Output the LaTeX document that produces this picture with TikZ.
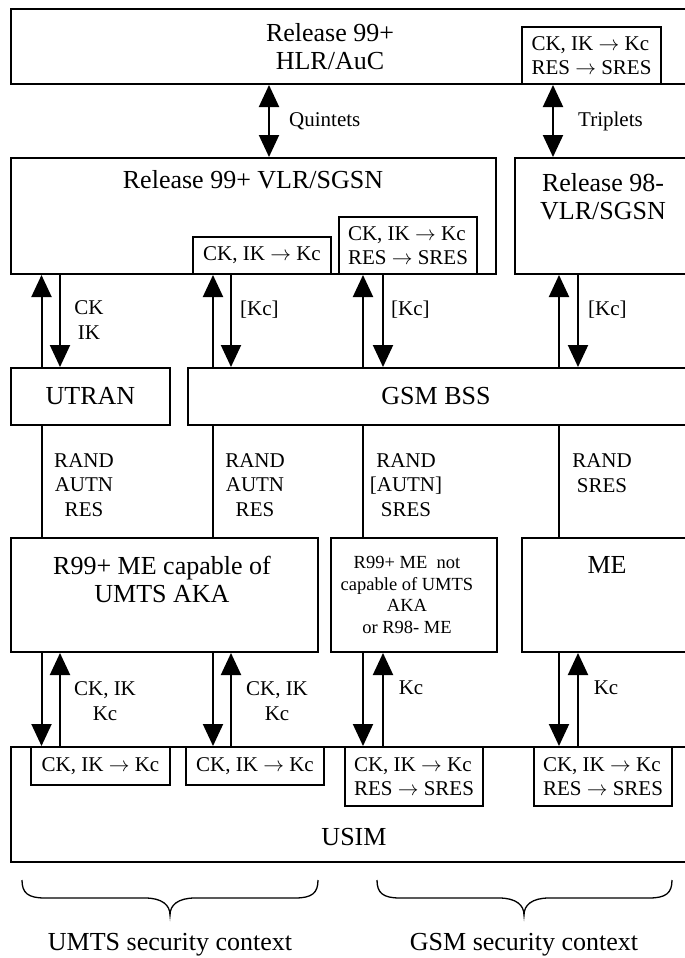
\documentclass[tikz,border=0pt]{standalone}
\usepackage{fontspec}
\setmainfont{Liberation Serif}
\usepackage{tikz}
\usetikzlibrary{arrows.meta,calc}
\newcommand\bigtxt{\fontsize{26}{28}\selectfont}
\newcommand\smalltxt{\fontsize{21}{24.5}\selectfont}
\newcommand\midtxt{\fontsize{18.5}{21.5}\selectfont}
\newcommand\ra{$\rightarrow$}

\begin{document}
\begin{tikzpicture}[x=1pt,y=-1pt,
    >={Triangle[width=20pt,length=22pt]},
    box/.style={draw,line width=2pt,inner sep=0pt},
    fnbox/.style={draw,line width=2pt,inner sep=2pt,align=left,font=\smalltxt},
    ar/.style={->,line width=2pt},
    ln/.style={line width=2pt},
    big/.style={font=\bigtxt,align=center,inner sep=0pt},
    lbl/.style={font=\smalltxt,align=center,inner sep=0pt},
    brace/.style={line width=1.3pt}]
  \useasboundingbox (0,0) rectangle (685,958);
  % network side
  \node[box,minimum width=689pt,minimum height=74.5pt] (hlr) at (355.5,46.75) {};
  \node[big] (hlrtxt) at (330,47) {Release 99+\\HLR/AuC};
  \node[fnbox,minimum width=139pt,minimum height=57pt] (hlrfn) at (591.5,55.5)
    {CK, IK \ra{} Kc\\RES \ra{} SRES};
  \node[box,minimum width=485pt,minimum height=116pt] (vlr) at (253.5,216) {};
  \node[big] (vlrtxt) at (253,180) {Release 99+ VLR/SGSN};
  \node[box,minimum width=185pt,minimum height=116pt] (vlro) at (607.5,216) {};
  \node[big] (vlrotxt) at (603,197) {Release 98-\\VLR/SGSN};
  \node[fnbox,minimum width=138pt,minimum height=37pt] (vlrfna) at (262,255.5)
    {CK, IK \ra{} Kc};
  \node[fnbox,minimum width=138pt,minimum height=57pt] (vlrfnb) at (408,245.5)
    {CK, IK \ra{} Kc\\RES \ra{} SRES};
  \node[box,minimum width=159pt,minimum height=57pt,font=\bigtxt] (utran) at (90.5,396.5) {UTRAN};
  \node[box,minimum width=512pt,minimum height=57pt,font=\bigtxt] (bss) at (444,396.5) {};
  \node[big] (bsstxt) at (436,396.5) {GSM BSS};
  % mobile side
  \node[box,minimum width=307pt,minimum height=114pt] (mea) at (164.5,595) {};
  \node[big] (meatxt) at (162,579) {R99+ ME capable of\\UMTS AKA};
  \node[box,minimum width=166pt,minimum height=114pt] (meb) at (414,595) {};
  \node[font=\midtxt,align=center,inner sep=0pt] (mebtxt) at (407,595)
    {R99+ ME~~not\\capable of UMTS\\AKA\\or R98- ME};
  \node[box,minimum width=178pt,minimum height=114pt] (mec) at (611,595) {};
  \node[big] (mectxt) at (607,565) {ME};
  \node[box,minimum width=689pt,minimum height=115pt] (usim) at (355.5,804.5) {};
  \node[big] (usimtxt) at (354,837) {USIM};
  \node[fnbox,minimum width=139pt,minimum height=38pt] (simfna) at (100.5,766) {CK, IK \ra{} Kc};
  \node[fnbox,minimum width=138pt,minimum height=38pt] (simfnb) at (255,766) {CK, IK \ra{} Kc};
  \node[fnbox,minimum width=138pt,minimum height=59pt] (simfnc) at (414,776.5)
    {CK, IK \ra{} Kc\\RES \ra{} SRES};
  \node[fnbox,minimum width=138pt,minimum height=59pt] (simfnd) at (603,776.5)
    {CK, IK \ra{} Kc\\RES \ra{} SRES};
  % columns of the connectors
  \coordinate (q) at (269,0);   \coordinate (t) at (553,0);
  \coordinate (ua) at (41.5,0); \coordinate (ub) at (60,0);
  \coordinate (va) at (213,0);  \coordinate (vb) at (231,0);
  \coordinate (wa) at (363,0);  \coordinate (wb) at (383,0);
  \coordinate (za) at (559,0);  \coordinate (zb) at (578,0);
  \draw[ar,<->] (hlr.south -| q) -- (vlr.north -| q);
  \draw[ar,<->] (hlrfn.south -| t) -- (vlro.north -| t);
  \node[lbl,anchor=west] (quin) at (289,121) {Quintets};
  \node[lbl,anchor=west] (trip) at (578,121) {Triplets};
  % VLR/SGSN <-> access network
  \draw[ar] (utran.north -| ua) -- (vlr.south -| ua);
  \draw[ar] (vlr.south -| ub) -- (utran.north -| ub);
  \draw[ar] (bss.north -| va) -- (vlrfna.south -| va);
  \draw[ar] (vlrfna.south -| vb) -- (bss.north -| vb);
  \draw[ar] (bss.north -| wa) -- (vlrfnb.south -| wa);
  \draw[ar] (vlrfnb.south -| wb) -- (bss.north -| wb);
  \draw[ar] (bss.north -| za) -- (vlro.south -| za);
  \draw[ar] (vlro.south -| zb) -- (bss.north -| zb);
  \node[lbl] (ckik) at (89,320) {CK\\IK};
  \node[lbl,anchor=west] (kca) at (240,310) {[Kc]};
  \node[lbl,anchor=west] (kcb) at (391,310) {[Kc]};
  \node[lbl,anchor=west] (kcc) at (588,310) {[Kc]};
  % access network -- ME
  \draw[ln] (utran.south -| ua) -- (mea.north -| ua);
  \draw[ln] (bss.south -| va) -- (mea.north -| va);
  \draw[ln] (bss.south -| wa) -- (meb.north -| wa);
  \draw[ln] (bss.south -| za) -- (mec.north -| za);
  \node[lbl] (randa) at (84,485) {RAND\\AUTN\\RES};
  \node[lbl] (randb) at (255,485) {RAND\\AUTN\\RES};
  \node[lbl] (randc) at (406,485) {RAND\\{[AUTN]}\\SRES};
  \node[lbl] (randd) at (602,473) {RAND\\SRES};
  % ME <-> USIM
  \draw[ar] (mea.south -| ua) -- (simfna.north -| ua);
  \draw[ar] (simfna.north -| ub) -- (mea.south -| ub);
  \draw[ar] (mea.south -| va) -- (simfnb.north -| va);
  \draw[ar] (simfnb.north -| vb) -- (mea.south -| vb);
  \draw[ar] (meb.south -| wa) -- (simfnc.north -| wa);
  \draw[ar] (simfnc.north -| wb) -- (meb.south -| wb);
  \draw[ar] (mec.south -| za) -- (simfnd.north -| za);
  \draw[ar] (simfnd.north -| zb) -- (mec.south -| zb);
  \node[lbl] (keysa) at (105,701) {CK, IK\\Kc};
  \node[lbl] (keysb) at (277,701) {CK, IK\\Kc};
  \node[lbl] (keysc) at (411,688) {Kc};
  \node[lbl] (keysd) at (606,688) {Kc};
  % security contexts
  \draw[brace] (22,880) .. controls (22,893) and (28,898) .. (45,898) -- (145,898)
    .. controls (162,898) and (170,905) .. (170,915)
    .. controls (170,905) and (178,898) .. (195,898) -- (295,898)
    .. controls (312,898) and (318,893) .. (318,880);
  \draw[brace] (377,880) .. controls (377,893) and (383,898) .. (400,898) -- (499,898)
    .. controls (516,898) and (524,905) .. (524,915)
    .. controls (524,905) and (532,898) .. (549,898) -- (649,898)
    .. controls (666,898) and (672,893) .. (672,880);
  \node[big] (umts) at (170,945) {UMTS security context};
  \node[big] (gsm) at (524,945) {GSM security context};
\end{tikzpicture}
\end{document}
